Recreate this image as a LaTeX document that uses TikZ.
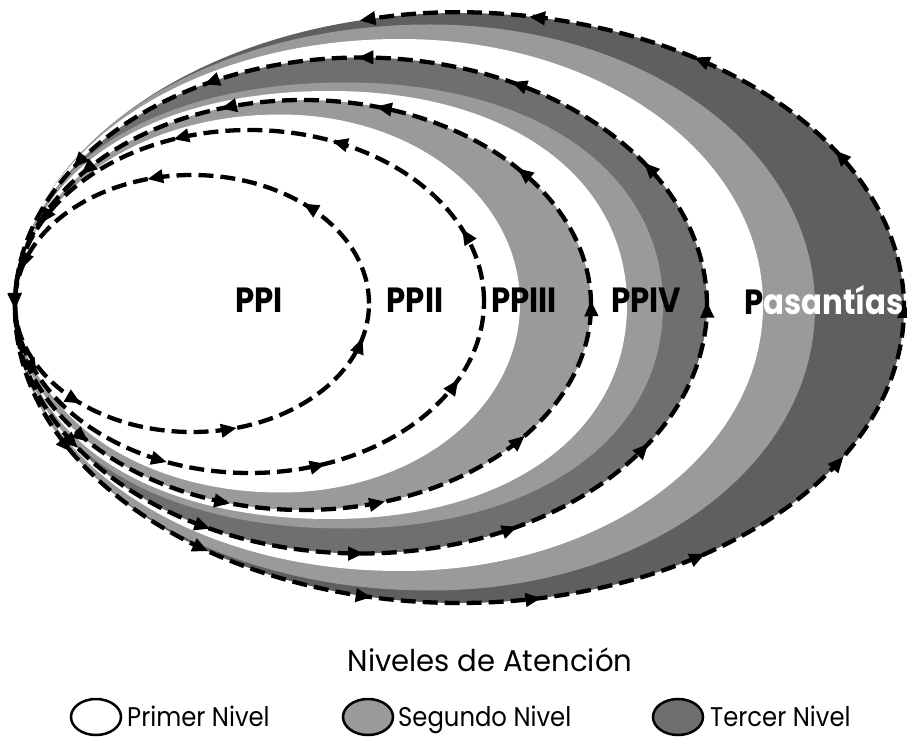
\documentclass[tikz,border=0pt]{standalone}
\usepackage{fontspec}
\setmainfont{Poppins}
\usetikzlibrary{arrows.meta,decorations.markings}
\definecolor{lgray}{HTML}{9A9A9A}
\definecolor{dgrayA}{HTML}{6F6F6F}
\definecolor{dgrayB}{HTML}{5F5F5F}
% egg shaped closed path: left x, top x, right x, centre y, y radius, squareness
\newcommand\eggpath[6]{%
 (#1,#4) .. controls (#1,{#4+#6*#5}) and ({#2-#6*(#2-#1)},{#4+#5}) .. (#2,{#4+#5})
 .. controls ({#2+#6*(#3-#2)},{#4+#5}) and (#3,{#4+#6*#5}) .. (#3,#4)
 .. controls (#3,{#4-#6*#5}) and ({#2+#6*(#3-#2)},{#4-#5}) .. (#2,{#4-#5})
 .. controls ({#2-#6*(#2-#1)},{#4-#5}) and (#1,{#4-#6*#5}) .. (#1,#4) -- cycle}
\newcommand\labtxt[1]{\scalebox{0.88}[1]{#1}}
\tikzset{
 dline/.style={line width=4.3pt, dash pattern=on 15pt off 7pt, black},
 tipmarks/.style={postaction={decorate}, decoration={markings,
   mark=between positions #1 with {\arrow{Triangle[length=16pt,width=13pt]}}}},
 lab/.style={font=\bfseries\fontsize{35}{35}\selectfont, inner sep=0pt},
 legtext/.style={font=\fontsize{27}{27}\selectfont, inner sep=0pt, anchor=base west},
 legmark/.style={draw=black, line width=2.5pt},
}
\begin{document}
\begin{tikzpicture}[x=1pt,y=1pt]
\useasboundingbox (0,0) rectangle (907,737);
\fill[white] (0,0) rectangle (907,737);
% group 5
\fill[dgrayB] (459.5,429) ellipse [x radius=444.5, y radius=295];
\fill[lgray] \eggpath{15}{430}{815}{429.5}{283}{0.56};
\fill[white] \eggpath{15}{400}{763}{432}{266}{0.56};
% group 4
\fill[dgrayA] (361,431.5) ellipse [x radius=346, y radius=248];
\fill[lgray] \eggpath{15}{345}{663}{431.5}{223}{0.6};
\fill[white] \eggpath{18}{330}{627}{432}{214}{0.6};
% group 3
\fill[lgray] (303,432) ellipse [x radius=288, y radius=205];
\fill[white] \eggpath{20}{280}{520}{433.5}{189}{0.56};
% group 2
\fill[white] (249.5,435.5) ellipse [x radius=234.5, y radius=171.5];
% dashed outlines with arrows
\draw[dline, tipmarks={0.085 and 0.95 step 0.0915}, -{Triangle[length=16pt,width=13pt]}]
  (15,429) arc [start angle=180, end angle=463, x radius=444.5, y radius=295];
\draw[dline, tipmarks={0.002 and 0.99 step 0.0833}] (361,431.5) ellipse [x radius=346, y radius=248];
\draw[dline, tipmarks={0.003 and 0.99 step 0.1}] (303,432) ellipse [x radius=288, y radius=205];
\draw[dline, tipmarks={0.06 and 0.99 step 0.125}] (249.5,435.5) ellipse [x radius=234.5, y radius=171.5];
\draw[dline, tipmarks={0.13 and 0.99 step 0.1667}] (192,433.5) ellipse [x radius=177, y radius=128.5];
% labels
\node[lab] (ppi) at (259,437) {\labtxt{PPI}};
\node[lab] (ppii) at (415,437) {\labtxt{PPII}};
\node[lab] (ppiii) at (524,437) {\labtxt{PPIII}};
\node[lab] (ppiv) at (646,437) {\labtxt{PPIV}};
\node[lab] (pas) at (824,437) {\labtxt{P\textcolor{white}{asantías}}};
% legend
\node[font=\fontsize{30}{30}\selectfont, inner sep=0pt] (title) at (490,77) {\scalebox{0.97}[1]{Niveles de Atención}};
\draw[legmark, fill=white] (96,20) ellipse [x radius=25, y radius=18];
\draw[legmark, fill=lgray] (368,20) ellipse [x radius=25, y radius=18];
\draw[legmark, fill=dgrayA] (678,20) ellipse [x radius=25, y radius=18];
\node[legtext] (l1) at (127,10.5) {\scalebox{0.9}[1]{Primer Nivel}};
\node[legtext] (l2) at (398,10.5) {\scalebox{0.9}[1]{Segundo Nivel}};
\node[legtext] (l3) at (710,10.5) {\scalebox{0.9}[1]{Tercer Nivel}};
\end{tikzpicture}
\end{document}
